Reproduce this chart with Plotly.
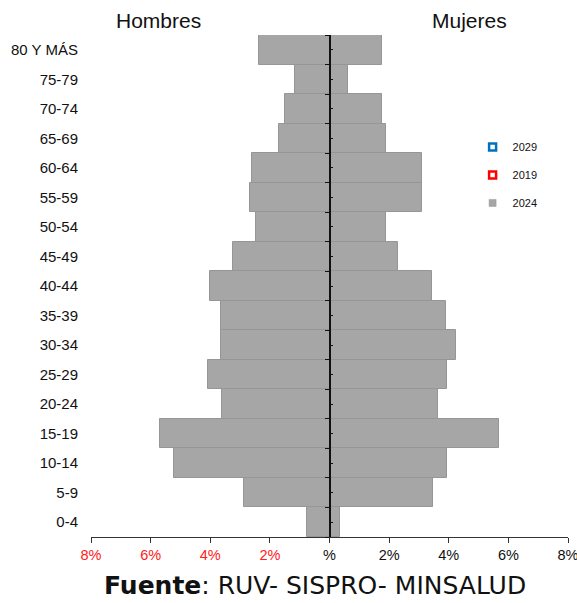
import plotly.graph_objects as go

# Age groups, youngest first (bottom of the pyramid)
age_groups = ["0-4", "5-9", "10-14", "15-19", "20-24", "25-29", "30-34", "35-39",
              "40-44", "45-49", "50-54", "55-59", "60-64", "65-69", "70-74", "75-79",
              "80 Y MÁS"]

# Share of total population (%), year 2024
hombres_2024 = [0.77, 2.86, 5.22, 5.69, 3.61, 4.09, 3.64, 3.64,
                4.00, 3.23, 2.47, 2.67, 2.59, 1.68, 1.50, 1.16, 2.38]
mujeres_2024 = [0.34, 3.47, 3.95, 5.69, 3.65, 3.95, 4.23, 3.92,
                3.45, 2.30, 1.88, 3.09, 3.09, 1.88, 1.77, 0.62, 1.75]

# Comparison years listed in the legend (no bars drawn for them)
serie_2029 = []
serie_2019 = []

x_ticks = [-8, -6, -4, -2, 0, 2, 4, 6, 8]
x_tick_text = ["<span style='color:#ff2020'>8%</span>",
               "<span style='color:#ff2020'>6%</span>",
               "<span style='color:#ff2020'>4%</span>",
               "<span style='color:#ff2020'>2%</span>",
               "%", "2%", "4%", "6%", "8%"]

GRAY = "#a6a6a6"
EDGE = "#969696"
FONT = "Liberation Sans, Arial, sans-serif"

pos = list(range(len(age_groups)))

fig = go.Figure()

fig.add_trace(go.Bar(
    y=pos, x=[-v for v in hombres_2024], orientation="h",
    marker=dict(color=GRAY, line=dict(color=EDGE, width=1)),
    showlegend=False, name="Hombres 2024"))
fig.add_trace(go.Bar(
    y=pos, x=mujeres_2024, orientation="h",
    marker=dict(color=GRAY, line=dict(color=EDGE, width=1)),
    showlegend=False, name="Mujeres 2024"))

# Legend entries
fig.add_trace(go.Scatter(
    x=[None] * max(1, len(serie_2029)), y=[None] * max(1, len(serie_2029)),
    mode="markers", name="2029", legendgroup="a",
    marker=dict(symbol="square", size=7, color="white",
                line=dict(color="#0070c0", width=2.5))))
fig.add_trace(go.Scatter(
    x=[None] * max(1, len(serie_2019)), y=[None] * max(1, len(serie_2019)),
    mode="markers", name="2019", legendgroup="b",
    marker=dict(symbol="square", size=7, color="white",
                line=dict(color="#ff0000", width=2.5))))
fig.add_trace(go.Scatter(
    x=[None], y=[None], mode="markers", name="2024", legendgroup="c",
    marker=dict(symbol="square", size=7, color=GRAY,
                line=dict(color=EDGE, width=0.5))))

yr = [-0.5, len(age_groups) - 0.5]
boundaries = [i - 0.5 for i in range(len(age_groups) + 1)]

fig.update_layout(
    width=577, height=603,
    margin=dict(l=91, r=9, t=35, b=66, autoexpand=False),
    paper_bgcolor="white", plot_bgcolor="white",
    barmode="overlay", bargap=0,
    font=dict(family=FONT, color="#111111", size=13),
    xaxis=dict(range=[-8, 8], tickvals=x_ticks, ticktext=x_tick_text,
               showgrid=False, zeroline=False, showline=True,
               linecolor="#333333", linewidth=1, ticks="outside",
               ticklen=5, tickcolor="#333333", tickfont=dict(size=14.5),
               ticklabeloverflow="allow", automargin=False, fixedrange=True),
    yaxis=dict(range=yr, tickvals=pos, ticktext=age_groups, automargin=False,
               showgrid=False, zeroline=False, showline=False, ticks="",
               ticklabelstandoff=12, tickfont=dict(size=15, color="#111111")),
    yaxis2=dict(range=yr, overlaying="y", anchor="free", position=0.5,
                side="left", showline=True, linecolor="#111111", linewidth=1.5,
                ticks="outside", ticklen=4, tickcolor="#111111",
                tickvals=boundaries, showticklabels=False, automargin=False,
                showgrid=False, zeroline=False),
    yaxis3=dict(range=yr, overlaying="y", anchor="free", position=0.5,
                side="right", showline=False, ticks="outside", ticklen=2,
                tickcolor="#111111", tickvals=pos, showticklabels=False,
                automargin=False, showgrid=False, zeroline=False),
    legend=dict(x=0.80, y=0.806, xanchor="left", yanchor="top",
                traceorder="grouped", tracegroupgap=9,
                font=dict(size=11, color="#111111"),
                bgcolor="rgba(0,0,0,0)", itemwidth=30),
    annotations=[
        dict(text="Hombres", x=0.142, y=1.028, xref="paper", yref="paper",
             showarrow=False, xanchor="center", yanchor="middle",
             font=dict(size=21, family=FONT, color="#111111")),
        dict(text="Mujeres", x=0.793, y=1.028, xref="paper", yref="paper",
             showarrow=False, xanchor="center", yanchor="middle",
             font=dict(size=21, family=FONT, color="#111111")),
        dict(text="<b>Fuente</b>: RUV- SISPRO- MINSALUD", x=0.47, y=-0.0976,
             xref="paper", yref="paper", showarrow=False,
             xanchor="center", yanchor="middle",
             font=dict(size=25, family="DejaVu Sans, Verdana, sans-serif",
                       color="#111111")),
    ],
)

# Empty traces so the auxiliary axes render
fig.add_trace(go.Scatter(x=[None], y=[None], yaxis="y2", showlegend=False,
                         hoverinfo="skip"))
fig.add_trace(go.Scatter(x=[None], y=[None], yaxis="y3", showlegend=False,
                         hoverinfo="skip"))

fig.write_html("out.html")
